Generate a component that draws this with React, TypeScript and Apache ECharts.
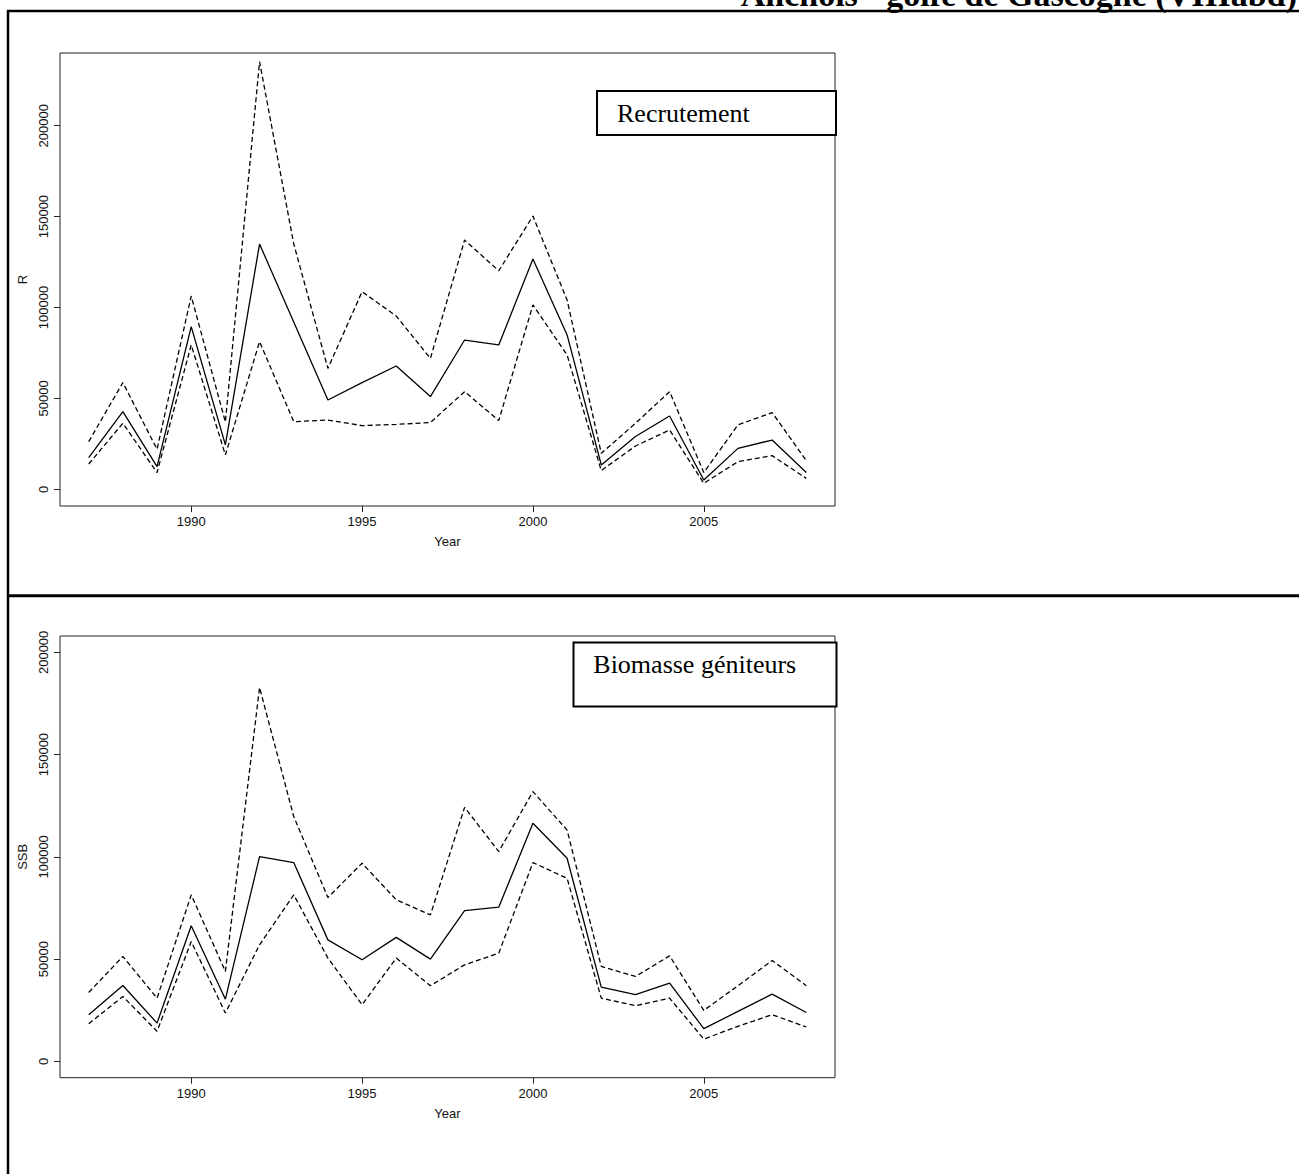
import React, { useEffect, useRef } from "react";
import * as echarts from "echarts";

const years = [1987, 1988, 1989, 1990, 1991, 1992, 1993, 1994, 1995, 1996, 1997, 1998, 1999, 2000, 2001, 2002, 2003, 2004, 2005, 2006, 2007, 2008];

const recruit = [17400, 42700, 12500, 89500, 24400, 134900, 92000, 49100, 58700, 67800, 51000, 82100, 79400, 126700, 84900, 13400, 29000, 40300, 5100, 22500, 27100, 9200];
const recruitUpper = [26200, 58700, 22000, 106300, 37000, 235200, 135000, 66500, 108700, 95300, 72000, 137100, 120200, 150300, 104100, 19800, 36300, 53700, 9200, 35400, 42200, 15800];
const recruitLower = [13900, 36300, 9200, 79400, 18900, 81200, 37200, 38100, 35000, 35700, 36700, 53700, 37800, 101400, 73900, 10300, 23800, 32600, 3300, 15200, 18500, 6000];

const ssb = [22800, 37100, 18700, 66300, 30400, 100100, 97200, 59400, 49700, 60600, 50000, 73700, 75400, 116400, 99300, 36300, 32600, 38300, 16000, 24400, 32900, 23900];
const ssbUpper = [33700, 51300, 30900, 81400, 44000, 182800, 119700, 80100, 96900, 79000, 71600, 124200, 102600, 131900, 113100, 46400, 41500, 51600, 24900, 37000, 49300, 37000];
const ssbLower = [18400, 31700, 14700, 58600, 23600, 57000, 81400, 50500, 27700, 50500, 37000, 47200, 52900, 97200, 89500, 30900, 27200, 30900, 10900, 17100, 22800, 16800];

const xTicks = [1990, 1995, 2000, 2005];
const yTicks = [0, 50000, 100000, 150000, 200000];

const titleText = "Anchois - golfe de Gascogne (VIIIabd)";
const legendTop = "Recrutement";
const legendBottom = "Biomasse géniteurs";

const pairs = (v: number[]) => years.map((y, i) => [y, v[i]]);

export default function App() {
  const ref = useRef<HTMLDivElement>(null);
  useEffect(() => {
    document.body.style.margin = "0";
    const chart = echarts.init(ref.current!, null, { renderer: "svg" });
    const sans = "Liberation Sans, Arial, sans-serif";
    const serif = "Liberation Serif, Times New Roman, serif";
    const xAxis = (gridIndex: number) => ({
      type: "value",
      gridIndex,
      min: 1986.16,
      max: 2008.84,
      name: "Year",
      nameLocation: "middle",
      nameGap: 29,
      nameTextStyle: { fontFamily: sans, fontSize: 13, color: "#111" },
      axisLine: { show: false, onZero: false },
      splitLine: { show: false },
      axisTick: { show: true, length: 6, customValues: xTicks, lineStyle: { color: "#222", width: 1 } },
      axisLabel: { customValues: xTicks, margin: 9, fontFamily: sans, fontSize: 13, color: "#111", formatter: (v: number) => String(v) },
    });
    const yAxis = (gridIndex: number, name: string, min: number, max: number) => ({
      type: "value",
      gridIndex,
      min,
      max,
      name,
      nameLocation: "middle",
      nameGap: 31,
      nameTextStyle: { fontFamily: sans, fontSize: 13, color: "#111" },
      axisLine: { show: false, onZero: false },
      splitLine: { show: false },
      axisTick: { show: true, length: 6, customValues: yTicks, lineStyle: { color: "#222", width: 1 } },
      axisLabel: { customValues: yTicks, rotate: 90, margin: 10, fontFamily: sans, fontSize: 13, color: "#111", formatter: (v: number) => String(v) },
    });
    const line = (data: number[], xi: number, dashed: boolean) => ({
      type: "line",
      xAxisIndex: xi,
      yAxisIndex: xi,
      data: pairs(data),
      symbol: "none",
      silent: true,
      lineStyle: { color: "#000", width: 1.3, type: dashed ? [5, 3] : "solid" },
    });
    chart.setOption({
      animation: false,
      backgroundColor: "#fff",
      grid: [
        { left: 60, top: 53, width: 775, height: 453, show: true, borderColor: "#222", borderWidth: 1, backgroundColor: "transparent" },
        { left: 60, top: 636, width: 775, height: 441.7, show: true, borderColor: "#222", borderWidth: 1, backgroundColor: "transparent" },
      ],
      xAxis: [xAxis(0), xAxis(1)],
      yAxis: [yAxis(0, "R", -9200, 240000), yAxis(1, "SSB", -8000, 208000)],
      series: [
        line(recruit, 0, false),
        line(recruitUpper, 0, true),
        line(recruitLower, 0, true),
        line(ssb, 1, false),
        line(ssbUpper, 1, true),
        line(ssbLower, 1, true),
      ],
      graphic: [
        { type: "line", shape: { x1: 7, y1: 11, x2: 1299, y2: 11 }, style: { stroke: "#000", lineWidth: 2.5 } },
        { type: "line", shape: { x1: 8, y1: 10, x2: 8, y2: 1174 }, style: { stroke: "#000", lineWidth: 2.5 } },
        { type: "line", shape: { x1: 7, y1: 595.8, x2: 1299, y2: 595.8 }, style: { stroke: "#000", lineWidth: 3 } },
        { type: "text", x: 1297, y: -6, style: { text: titleText, fontFamily: serif, fontWeight: "bold", fontSize: 34, fill: "#000", align: "right", verticalAlign: "middle" } },
        { type: "rect", shape: { x: 597, y: 91, width: 239, height: 44 }, style: { fill: "#fff", stroke: "#000", lineWidth: 2 } },
        { type: "text", x: 617, y: 113, style: { text: legendTop, fontFamily: serif, fontSize: 26, fill: "#000", align: "left", verticalAlign: "middle" } },
        { type: "rect", shape: { x: 573.5, y: 642.5, width: 263, height: 64 }, style: { fill: "#fff", stroke: "#000", lineWidth: 2 } },
        { type: "text", x: 593.3, y: 664.5, style: { text: legendBottom, fontFamily: serif, fontSize: 26, fill: "#000", align: "left", verticalAlign: "middle" } },
      ],
    });
    return () => chart.dispose();
  }, []);
  return <div ref={ref} style={{ width: 1299, height: 1174 }} />;
}
